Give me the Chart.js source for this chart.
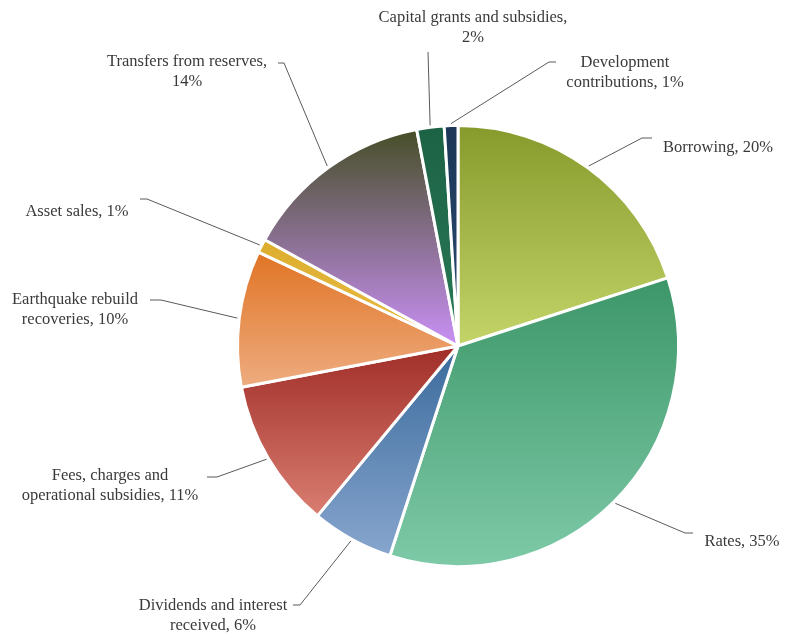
<!DOCTYPE html>
<html>
<head>
<meta charset="utf-8">
<title>Funding sources</title>
<script src="https://cdn.jsdelivr.net/npm/chart.js@4/dist/chart.umd.min.js"></script>
<style>
    body { margin: 0; background: #fff; }
    #wrap { width: 785px; height: 639px; }
</style>
</head>
<body>
<div id="wrap"><canvas id="chart" width="785" height="639"></canvas></div>
<script>
// Funding sources, percent of total
const categories = [
    'Borrowing',
    'Rates',
    'Dividends and interest received',
    'Fees, charges and operational subsidies',
    'Earthquake rebuild recoveries',
    'Asset sales',
    'Transfers from reserves',
    'Capital grants and subsidies',
    'Development contributions'
];
const shares = [20, 35, 6, 11, 10, 1, 14, 2, 1];

// words on the first label line (0 = keep on one line)
const firstLineWords = [0, 0, 3, 3, 2, 0, 3, 4, 1];

// slice gradients, top colour -> bottom colour
const topColors    = ['#869a2c', '#3c9668', '#3a6a9c', '#a02e28', '#e07424', '#dcac2c', '#454e26', '#1c6244', '#1b3656'];
const bottomColors = ['#c4d468', '#7ecaa8', '#88a6ce', '#da7e72', '#eeac80', '#e8be48', '#ca90f6', '#2a7a58', '#2c4c72'];

// label placement: text centre, first line y, and the leader stub near the text
const labelPos = [
    { x: 718, y: 148, stub: [652, 138], elbow: [642, 138] },
    { x: 742, y: 542, stub: [693, 533], elbow: [685, 533] },
    { x: 213, y: 606, stub: [293, 605], elbow: [300, 605] },
    { x: 110, y: 476, stub: [207, 477], elbow: [217, 477] },
    { x: 75,  y: 300, stub: [150, 300], elbow: [161, 300] },
    { x: 77,  y: 212, stub: [140, 199], elbow: [147, 199] },
    { x: 187, y: 62,  stub: [278, 63],  elbow: [284, 63] },
    { x: 473, y: 18,  stub: [428, 52],  elbow: [428, 52] },
    { x: 625, y: 63,  stub: [556, 62],  elbow: [549, 62] }
];

function labelLines(i) {
    const words = (categories[i] + ', ' + shares[i] + '%').split(' ');
    const n = firstLineWords[i];
    if (!n) return [words.join(' ')];
    return [words.slice(0, n).join(' '), words.slice(n).join(' ')];
}

// vertical gradient spanning just the slice's own height
function sliceGradient(context) {
    const i = context.dataIndex;
    const chart = context.chart;
    const area = chart.chartArea;
    if (!area) return topColors[i];
    const cx = (area.left + area.right) / 2;
    const cy = (area.top + area.bottom) / 2;
    const r = Math.min(area.width, area.height) / 2;
    const total = shares.reduce((a, b) => a + b, 0);
    let before = 0;
    for (let k = 0; k < i; k++) before += shares[k];
    const a0 = -Math.PI / 2 + before / total * Math.PI * 2;
    const a1 = a0 + shares[i] / total * Math.PI * 2;
    const ys = [cy, cy + r * Math.sin(a0), cy + r * Math.sin(a1)];
    if (a0 <= -Math.PI / 2 + 1e-6 || a1 >= Math.PI * 1.5 - 1e-6) ys.push(cy - r);
    if (a0 < Math.PI / 2 && a1 > Math.PI / 2) ys.push(cy + r);
    const minY = Math.min(...ys);
    const maxY = Math.max(...ys);
    const g = chart.ctx.createLinearGradient(0, minY, 0, Math.max(maxY, minY + 1));
    g.addColorStop(0, topColors[i]);
    g.addColorStop(1, bottomColors[i]);
    return g;
}

const leaderLabels = {
    id: 'leaderLabels',
    afterDraw(chart) {
        const ctx = chart.ctx;
        const arcs = chart.getDatasetMeta(0).data;
        ctx.save();
        ctx.strokeStyle = '#5a5a5a';
        ctx.lineWidth = 1;
        ctx.fillStyle = '#3a3a3a';
        ctx.font = '16.5px "Liberation Serif", "Times New Roman", serif';
        ctx.textAlign = 'center';
        ctx.textBaseline = 'middle';
        arcs.forEach((arc, i) => {
            const p = labelPos[i];
            const mid = (arc.startAngle + arc.endAngle) / 2;
            const ex = arc.x + (arc.outerRadius + 2) * Math.cos(mid);
            const ey = arc.y + (arc.outerRadius + 2) * Math.sin(mid);
            ctx.beginPath();
            ctx.moveTo(p.stub[0], p.stub[1]);
            ctx.lineTo(p.elbow[0], p.elbow[1]);
            ctx.lineTo(ex, ey);
            ctx.stroke();
            labelLines(i).forEach((line, j) => {
                ctx.fillText(line, p.x, p.y + j * 20);
            });
        });
        ctx.restore();
    }
};

new Chart(document.getElementById('chart'), {
    type: 'pie',
    data: {
        labels: categories,
        datasets: [{
            data: shares,
            backgroundColor: sliceGradient,
            borderColor: '#ffffff',
            borderWidth: 3
        }]
    },
    options: {
        responsive: false,
        animation: false,
        layout: { padding: { left: 236, right: 105, top: 124, bottom: 71 } },
        plugins: {
            legend: { display: false },
            tooltip: { enabled: false }
        }
    },
    plugins: [leaderLabels]
});
</script>
</body>
</html>
